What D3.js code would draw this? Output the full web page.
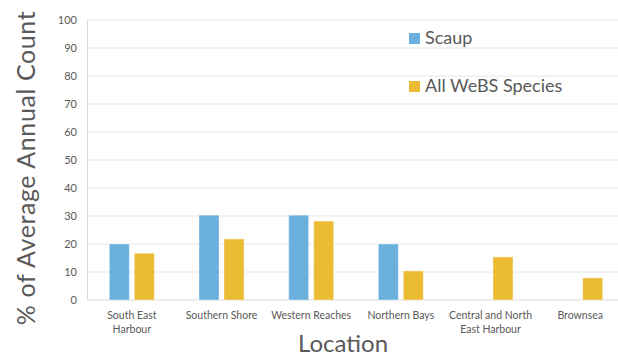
<!DOCTYPE html>
<html>
<head>
<meta charset="utf-8">
<script src="https://cdn.jsdelivr.net/npm/d3@7"></script>
<style>
  body { margin: 0; background: #fff; }
  text { font-family: "Lato", "Open Sans", sans-serif; fill: #595959; }
</style>
</head>
<body>
<div id="chart"></div>
<script>
// data
var locations = [["South East", "Harbour"], ["Southern Shore"], ["Western Reaches"], ["Northern Bays"], ["Central and North", "East Harbour"], ["Brownsea"]];
var seriesNames = ["Scaup", "All WeBS Species"];
var scaup = [20, 30.3, 30.3, 20, null, null];
var allWebs = [16.7, 21.8, 28.2, 10.4, 15.4, 7.9];
var yTicks = [0, 10, 20, 30, 40, 50, 60, 70, 80, 90, 100];
var colors = ["#6AB0DC", "#EABB33"];

var width = 618, height = 356;
var margin = { left: 87, right: -7, top: 20, bottom: 56 };

var svg = d3.select("#chart").append("svg")
    .attr("width", width)
    .attr("height", height);

var x = d3.scaleBand()
    .domain(d3.range(locations.length))
    .range([margin.left, width - margin.right]);

var y = d3.scaleLinear()
    .domain([0, 100])
    .range([height - margin.bottom, margin.top]);

// gridlines
svg.append("g").selectAll("line")
    .data(yTicks.slice(1))
    .enter().append("line")
    .attr("x1", margin.left)
    .attr("x2", width)
    .attr("y1", function (d) { return y(d); })
    .attr("y2", function (d) { return y(d); })
    .attr("stroke", "#e6e6e6")
    .attr("stroke-width", 1);

// axes
var yAxis = d3.axisLeft(y).tickValues(yTicks).tickSize(0).tickPadding(10);
var gy = svg.append("g")
    .attr("transform", "translate(" + margin.left + ",0)")
    .call(yAxis);
gy.select(".domain").attr("stroke", "#d9d9d9");
gy.selectAll("text").style("font-size", "11px").attr("fill", "#666");

svg.append("line")
    .attr("x1", margin.left).attr("x2", width)
    .attr("y1", y(0)).attr("y2", y(0))
    .attr("stroke", "#d9d9d9");

// bars
var barW = 20, gap = 5;
var series = [scaup, allWebs];
series.forEach(function (vals, si) {
    svg.append("g").selectAll("rect")
        .data(vals.map(function (v, i) { return { i: i, v: v }; }).filter(function (d) { return d.v != null; }))
        .enter().append("rect")
        .attr("x", function (d) {
            var c = x(d.i) + x.bandwidth() / 2;
            return si === 0 ? c - gap / 2 - barW : c + gap / 2;
        })
        .attr("width", barW)
        .attr("y", function (d) { return y(d.v); })
        .attr("height", function (d) { return y(0) - y(d.v); })
        .attr("fill", colors[si])
        .attr("stroke", "#fff")
        .attr("stroke-opacity", 0.4)
        .attr("stroke-width", 1);
});

// category labels
var cat = svg.append("g").selectAll("text")
    .data(locations)
    .enter().append("text")
    .attr("x", function (d, i) { return x(i) + x.bandwidth() / 2; })
    .attr("y", y(0) + 19)
    .attr("text-anchor", "middle")
    .style("font-size", "10.5px");
cat.selectAll("tspan")
    .data(function (d) { return d; })
    .enter().append("tspan")
    .attr("x", function () { return d3.select(this.parentNode).attr("x"); })
    .attr("dy", function (d, i) { return i === 0 ? 0 : 13.5; })
    .text(function (d) { return d; });

// axis titles
svg.append("text")
    .attr("transform", "translate(35," + ((y(0) + y(100)) / 2 + 8) + ") rotate(-90)")
    .attr("text-anchor", "middle")
    .style("font-size", "25px")
    .style("letter-spacing", "0.6px")
    .text("% of Average Annual Count");

svg.append("text")
    .attr("x", 343)
    .attr("y", 352)
    .attr("text-anchor", "middle")
    .style("font-size", "24px")
    .text("Location");

// legend
var legend = svg.append("g").selectAll("g")
    .data(seriesNames)
    .enter().append("g")
    .attr("transform", function (d, i) { return "translate(409," + (33 + i * 48) + ")"; });
legend.append("rect")
    .attr("width", 11).attr("height", 11)
    .attr("fill", function (d, i) { return colors[i]; });
legend.append("text")
    .attr("x", 16)
    .attr("y", 11)
    .style("font-size", "18px")
    .text(function (d) { return d; });
</script>
</body>
</html>
